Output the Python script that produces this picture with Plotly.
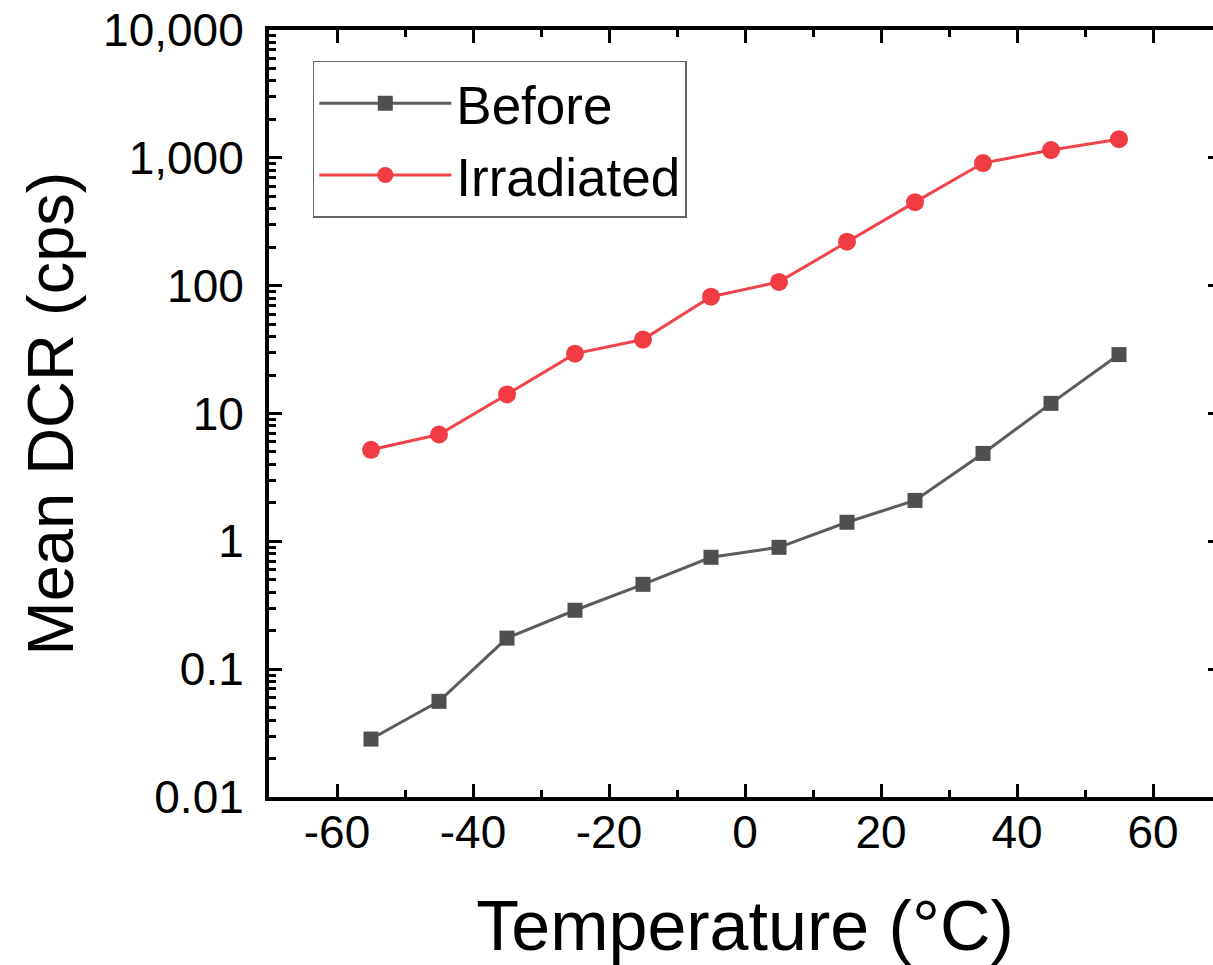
import plotly.graph_objects as go

temperature = [-55, -45, -35, -25, -15, -5, 5, 15, 25, 35, 45, 55]
before = [0.0284, 0.056, 0.175, 0.289, 0.461, 0.75, 0.898, 1.41, 2.09, 4.87, 12.0, 28.9]
irradiated = [5.2, 6.85, 14.1, 29.4, 37.9, 82, 107, 221, 450, 910, 1150, 1400]

x_tickvals = [-60, -40, -20, 0, 20, 40, 60]
x_ticktext = ["-60", "-40", "-20", "0", "20", "40", "60"]
y_tickvals = [0.01, 0.1, 1, 10, 100, 1000, 10000]
y_ticktext = ["0.01", "0.1", "1", "10", "100", "1,000", "10,000"]

FONT = "Arial, Liberation Sans, sans-serif"

fig = go.Figure()
fig.add_trace(go.Scatter(
    x=temperature, y=before, name="Before", mode="lines+markers",
    line=dict(color="#5c5c5c", width=3),
    marker=dict(symbol="square", size=15, color="#4f4f4f"),
))
fig.add_trace(go.Scatter(
    x=temperature, y=irradiated, name="Irradiated", mode="lines+markers",
    line=dict(color="#f0444a", width=3),
    marker=dict(symbol="circle", size=18, color="#f23c43"),
))

axis_common = dict(
    showline=True, linecolor="black", linewidth=4, mirror="ticks",
    ticks="inside", ticklen=13, tickwidth=3, tickcolor="black",
    showgrid=False, zeroline=False, automargin=False,
    ticklabeloverflow="allow",
    tickfont=dict(family=FONT, size=46, color="black"),
)

fig.update_xaxes(
    range=[-70, 70], tickmode="array", tickvals=x_tickvals, ticktext=x_ticktext,
    minor=dict(dtick=10, tick0=0, ticks="inside", ticklen=7, tickwidth=3, tickcolor="black", showgrid=False),
    title=dict(text="Temperature (°C)", font=dict(family=FONT, size=70, color="black"), standoff=45),
    ticklabelstandoff=-8,
    **axis_common,
)
fig.update_yaxes(
    type="log", range=[-2, 4], tickmode="array", tickvals=y_tickvals, ticktext=y_ticktext,
    minor=dict(dtick="D1", ticks="inside", ticklen=7, tickwidth=3, tickcolor="black", showgrid=False),
    title=dict(text="Mean DCR (cps)", font=dict(family=FONT, size=65, color="black"), standoff=9),
    ticklabelstandoff=12,
    **axis_common,
)

fig.update_layout(
    width=1230, height=965,
    margin=dict(l=269, r=9, t=30, b=168),
    paper_bgcolor="white", plot_bgcolor="white",
    showlegend=True,
    legend=dict(
        x=0.046, y=0.96, xanchor="left", yanchor="top",
        bgcolor="white", bordercolor="#666666", borderwidth=1.5,
        font=dict(family=FONT, size=53, color="black"),
        itemwidth=132, tracegroupgap=0,
    ),
)

fig.write_html(
    "out.html",
    config={"displayModeBar": False},
    post_script="document.body.style.margin='0';document.body.style.overflow='hidden';document.documentElement.style.overflow='hidden';",
)
